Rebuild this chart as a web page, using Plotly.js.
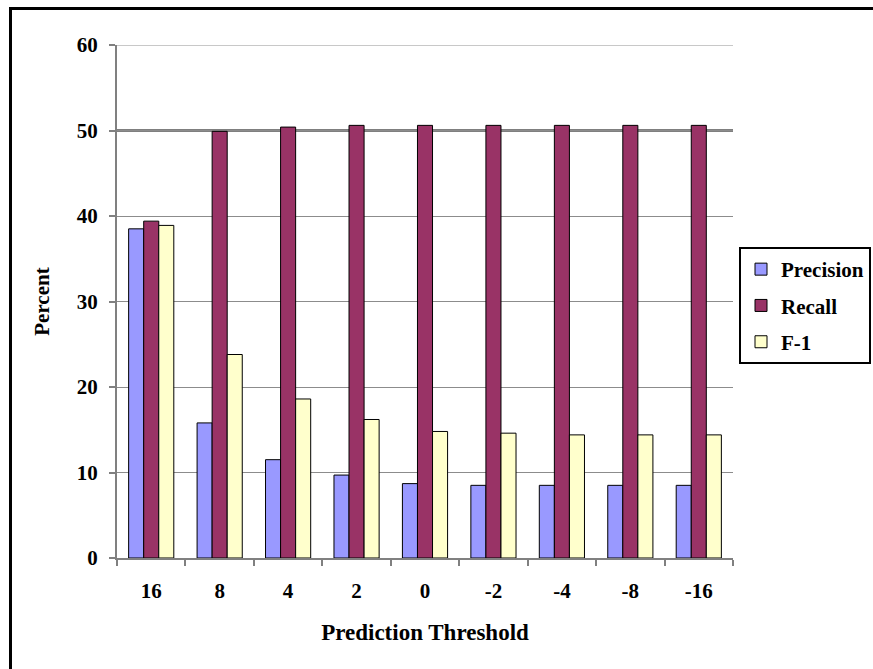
<!DOCTYPE html>
<html>
<head>
<meta charset="utf-8">
<script src="https://cdn.plot.ly/plotly-3.0.1.min.js"></script>
<style>
  body { margin: 0; }
  #frame { position: absolute; left: 9px; top: 7px; width: 864px; height: 662px;
           border-left: 3px solid #000; border-top: 3px solid #000; pointer-events: none; }
</style>
</head>
<body>
<div id="chart" style="width:873px;height:669px"></div>
<div id="frame"></div>
<script>
// Prediction threshold categories and the scores at each one (percent)
const thresholds = ['16', '8', '4', '2', '0', '-2', '-4', '-8', '-16'];
const precision = [38.5, 15.8, 11.5, 9.7, 8.7, 8.5, 8.5, 8.5, 8.5];
const recall    = [39.4, 49.9, 50.4, 50.6, 50.6, 50.6, 50.6, 50.6, 50.6];
const f1        = [38.9, 23.8, 18.6, 16.2, 14.8, 14.6, 14.4, 14.4, 14.4];

const outline = { color: '#000000', width: 1 };

function boldFont(size) {
  return { family: 'Times New Roman', size: size, weight: 'bold' };
}

function series(name, values, fill, group) {
  return {
    type: 'bar', name: name, x: thresholds, y: values,
    legendgroup: group,
    marker: { color: fill, line: outline },
    hoverinfo: 'x+y+name'
  };
}

const traces = [
  series('Precision', precision, '#9999FF', 'a'),
  series('Recall', recall, '#993366', 'b'),
  series('F-1', f1, '#FFFFCC', 'c')
];

const layout = {
  width: 873, height: 669,
  margin: { l: 117, r: 140, t: 45, b: 111, autoexpand: false },
  paper_bgcolor: '#ffffff', plot_bgcolor: '#ffffff',
  barmode: 'group', bargap: 0.34, bargroupgap: 0,
  font: { color: '#000000' },
  showlegend: true,
  legend: {
    xref: 'container', yref: 'container',
    x: 739 / 873, xanchor: 'left', y: 1 - 247 / 669, yanchor: 'top',
    bordercolor: '#000000', borderwidth: 2, bgcolor: '#ffffff',
    traceorder: 'grouped', tracegroupgap: 6,
    font: boldFont(21),
    itemwidth: 30
  },
  xaxis: {
    type: 'category',
    showline: true, linecolor: '#808080', linewidth: 2,
    ticks: 'outside', tickson: 'boundaries', ticklen: 6, tickcolor: '#808080', tickwidth: 2,
    showgrid: false, zeroline: false,
    ticklabelstandoff: 13,
    tickfont: boldFont(21),
    title: { text: 'Prediction Threshold', standoff: 22, font: boldFont(23) }
  },
  yaxis: {
    range: [0, 60], tick0: 0, dtick: 10,
    showline: true, linecolor: '#808080', linewidth: 2,
    ticks: 'outside', ticklen: 6, tickcolor: '#808080', tickwidth: 2,
    showgrid: true, gridcolor: '#8c8c8c', gridwidth: 1,
    zeroline: false,
    ticklabelstandoff: 7,
    tickfont: boldFont(21),
    title: { text: 'Percent', standoff: 21, font: boldFont(21) }
  },
  shapes: [
    { type: 'line', xref: 'paper', x0: 0, x1: 1, yref: 'y', y0: 50, y1: 50,
      line: { color: '#000000', width: 2 }, layer: 'below' },
    { type: 'line', xref: 'paper', x0: 0, x1: 1, yref: 'y', y0: 60, y1: 60,
      line: { color: '#c8c8c8', width: 2 }, layer: 'below' }
  ]
};

Plotly.newPlot('chart', traces, layout, { displayModeBar: false, staticPlot: true });
</script>
</body>
</html>
